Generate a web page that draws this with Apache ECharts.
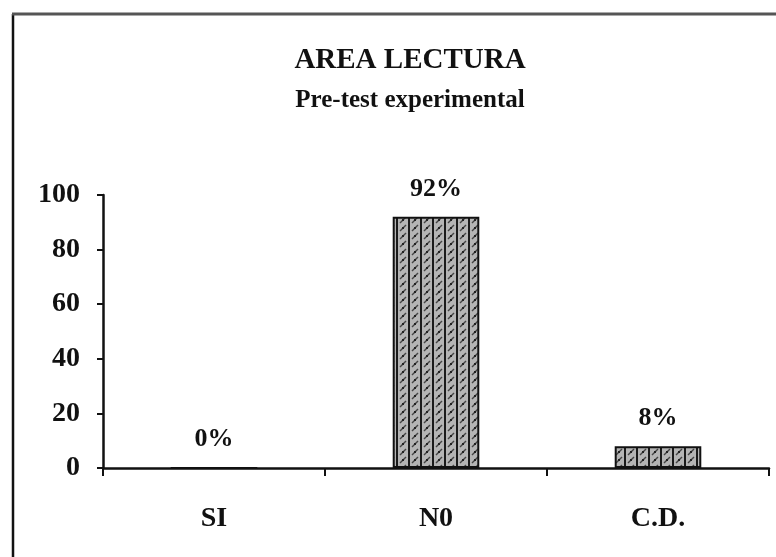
<!DOCTYPE html>
<html>
<head>
<meta charset="utf-8">
<script src="https://cdn.jsdelivr.net/npm/echarts@6/dist/echarts.min.js"></script>
<style>html,body{margin:0;padding:0;background:#fff;}#c{width:776px;height:557px;}</style>
</head>
<body>
<div id="c"></div>
<script>
const categories = ['SI', 'N0', 'C.D.'];
const values = [0, 92, 8];
const yTicks = [0, 20, 40, 60, 80, 100];

function makePattern() {
  const c = document.createElement('canvas');
  c.width = 12; c.height = 8;
  const g = c.getContext('2d');
  g.fillStyle = '#b4b4b4';
  g.fillRect(0, 0, 12, 8);
  g.fillStyle = '#1a1a1a';
  g.fillRect(0, 0, 2, 8);
  g.strokeStyle = '#444';
  g.lineWidth = 1.5;
  g.beginPath();
  g.moveTo(4, 7); g.lineTo(10, 1);
  g.stroke();
  g.fillStyle = '#222';
  g.fillRect(6, 3, 2, 2);
  return c;
}

const font = '"Liberation Serif", "DejaVu Serif", serif';
const chart = echarts.init(document.getElementById('c'), null, {renderer: 'canvas'});
chart.setOption({
  backgroundColor: '#ffffff',
  animation: false,
  title: {
    text: 'AREA LECTURA',
    subtext: 'Pre-test experimental',
    left: 405,
    textAlign: 'center',
    top: 41,
    itemGap: 13,
    textStyle: {fontFamily: font, fontWeight: 'bold', fontSize: 29, color: '#111'},
    subtextStyle: {fontFamily: font, fontWeight: 'bold', fontSize: 25, color: '#111'}
  },
  graphic: [
    {type: 'line', shape: {x1: 13, y1: 14, x2: 13, y2: 557}, style: {stroke: '#111', lineWidth: 2.5}},
    {type: 'line', shape: {x1: 12, y1: 14, x2: 776, y2: 14}, style: {stroke: '#555', lineWidth: 3}}
  ],
  grid: {left: 103, right: 7, top: 195, bottom: 89},
  xAxis: {
    type: 'category',
    data: categories,
    boundaryGap: true,
    axisLine: {lineStyle: {color: '#111', width: 2.5}},
    axisTick: {show: true, inside: false, length: 8, lineStyle: {color: '#111', width: 2}},
    axisLabel: {margin: 37, fontFamily: font, fontWeight: 'bold', fontSize: 28, color: '#111'}
  },
  yAxis: {
    type: 'value',
    min: 0, max: 100, interval: 20,
    splitLine: {show: false},
    axisLine: {show: true, lineStyle: {color: '#111', width: 2.5}},
    axisTick: {show: true, length: 6, lineStyle: {color: '#111', width: 2}},
    axisLabel: {
      margin: 23, fontFamily: font, fontWeight: 'bold', fontSize: 28, color: '#111',
      formatter: v => yTicks.includes(v) ? String(v) : ''
    }
  },
  series: [{
    type: 'bar',
    data: values,
    barWidth: '39%',
    itemStyle: {color: {image: makePattern(), repeat: 'repeat'}, borderColor: '#111', borderWidth: 2},
    label: {
      show: true, position: 'top', distance: 15,
      formatter: p => p.value + '%',
      fontFamily: font, fontWeight: 'bold', fontSize: 26, color: '#111'
    }
  }]
});
</script>
</body>
</html>
